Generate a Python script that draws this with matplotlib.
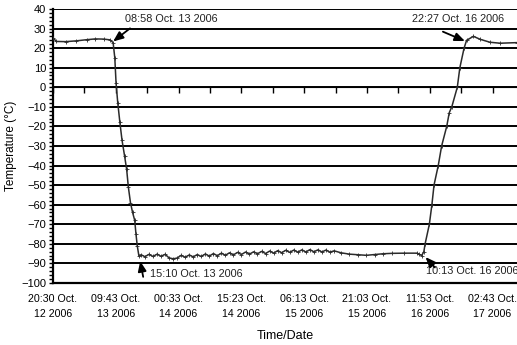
import matplotlib
matplotlib.use("Agg")
from matplotlib import pyplot as plt
from matplotlib.ticker import MultipleLocator
import numpy as np

plt.rcParams['font.family'] = ['Liberation Sans', 'DejaVu Sans']

# elapsed time (h) from the 20:30 Oct. 12 axis origin, and chamber temperature (C)
hours = [0.0, 0.8, 3.0, 5.5, 8.0, 10.0, 12.0, 13.5, 14.2,
         14.6, 14.9, 15.3, 15.8, 16.3, 16.9, 17.4, 17.8, 18.3, 18.8, 19.3, 19.6, 19.9, 20.3,
         20.8, 21.7, 22.7, 23.6, 24.6, 25.5, 26.5, 27.4, 28.4, 29.3, 30.3, 31.2, 32.2, 33.1,
         34.1, 35.0, 36.0, 36.9, 37.9, 38.8, 39.8, 40.7, 41.7, 42.6, 43.6, 44.5, 45.5, 46.4,
         47.4, 48.3, 49.3, 50.2, 51.2, 52.1, 53.1, 54.0, 55.0, 55.9, 56.9, 57.8, 58.8, 59.7,
         60.7, 61.6, 62.6, 63.5, 64.5, 65.4, 66.4,
         68.0, 70.0, 72.0, 74.0, 76.0, 78.0, 80.0, 83.0, 86.0, 86.5, 87.1,
         87.6, 87.9, 88.9, 89.5, 90.0, 91.0, 91.8, 93.0, 93.6, 94.2, 95.5, 96.1, 97.1, 97.7,
         99.3, 100.9, 103.2, 105.6, 109.6]
temps = [25.2, 23.4, 23.3, 23.7, 24.3, 24.7, 24.6, 24.2, 22.8,
         15.0, 2.0, -8.0, -18.0, -27.0, -35.0, -42.0, -51.0, -59.0, -64.0, -68.0, -75.0, -81.0, -86.3,
         -85.6, -86.6, -85.4, -86.5, -85.3, -86.4, -85.4, -87.2, -87.7, -87.3, -85.9, -86.9, -85.7, -86.7,
         -85.5, -86.5, -85.2, -86.3, -85.0, -86.1, -84.8, -85.9, -84.6, -85.7, -84.4, -85.5, -84.2, -85.3,
         -84.1, -85.1, -83.9, -85.0, -83.7, -84.8, -83.5, -84.6, -83.3, -84.4, -83.2, -84.3, -83.1, -84.2,
         -83.0, -84.1, -83.1, -84.2, -83.2, -84.3, -83.6,
         -84.6, -85.3, -85.6, -85.9, -85.5, -85.1, -84.9, -84.8, -84.8, -85.4, -86.0,
         -84.0, -80.0, -70.0, -60.0, -50.0, -40.0, -30.0, -20.0, -13.0, -10.0, 0.0, 10.0, 20.0, 24.0,
         26.0, 24.5, 23.0, 22.5, 22.8]

tick_labels = ["20:30 Oct.\n12 2006", "09:43 Oct.\n13 2006", "00:33 Oct.\n14 2006",
               "15:23 Oct.\n14 2006", "06:13 Oct.\n15 2006", "21:03 Oct.\n15 2006",
               "11:53 Oct.\n16 2006", "02:43 Oct.\n17 2006"]
label_step = 890 / 60.0  # 14 h 50 min between labelled ticks

# (text, text position, arrow tail, arrow head)
notes = [
    ("08:58 Oct. 13 2006", (17.0, 34.7), (18.2, 30.1), (14.2, 23.4)),
    ("22:27 Oct. 16 2006", (84.7, 34.7), (92.1, 28.4), (97.3, 23.6)),
    ("15:10 Oct. 13 2006", (22.9, -95.5), (21.3, -96.9), (20.6, -88.9)),
    ("10:13 Oct. 16 2006", (88.0, -94.0), (90.2, -92.1), (88.0, -86.8)),
]

fig = plt.figure(figsize=(5.17, 3.45), dpi=100)
ax = fig.add_axes([0.1025, 0.18, 0.8975, 0.794])

ax.set_xlim(0, 109.6)
ax.set_ylim(-100, 40)

for y in range(-90, 41, 10):
    ax.axhline(y, color='black', lw=1.4, zorder=1)

ax.plot(hours, temps, color='#2b2b2b', lw=1.1, marker='+', ms=3, mew=0.6, zorder=3)

for txt, tpos, tail, head in notes:
    ax.text(tpos[0], tpos[1], txt, fontsize=7.8, ha='left', va='center', color='#222222',
            clip_on=False)
    ax.annotate("", xy=head, xytext=tail,
                arrowprops=dict(arrowstyle='-|>,head_length=0.6,head_width=0.25',
                                color='black', lw=1.3, shrinkA=0, shrinkB=0))

ax.spines['top'].set_visible(False)
ax.spines['right'].set_visible(False)
ax.spines['left'].set_linewidth(1.6)
ax.spines['bottom'].set_linewidth(1.6)

ax.yaxis.set_major_locator(MultipleLocator(10))
ax.yaxis.set_minor_locator(MultipleLocator(2))
ax.tick_params(axis='y', which='both', direction='out', length=3, width=1.0, labelsize=8, pad=2)
ax.set_yticks(np.arange(-100, 41, 10))

ax.set_xticks([i * label_step for i in range(len(tick_labels))])
ax.set_xticklabels(tick_labels, fontsize=7.7, linespacing=1.6)
ax.tick_params(axis='x', which='both', length=0, pad=8)

# tick marks sit on the zero line
zero_axis = ax.secondary_xaxis(100 / 140)
zero_axis.set_xticks([i * label_step / 2 for i in range(2 * len(tick_labels) + 1)])
zero_axis.tick_params(axis='x', direction='out', length=4, width=1.0, labelbottom=False,
                      labeltop=False, bottom=True, top=False)
zero_axis.spines['bottom'].set_linewidth(1.4)
zero_axis.xaxis.set_ticks_position('bottom')
zero_axis.xaxis.set_tick_params(labelbottom=False)

ax.set_ylabel("Temperature (\u00b0C)", fontsize=8.5, labelpad=3)
ax.set_xlabel("Time/Date", fontsize=9, labelpad=8)

plt.savefig("out.png", dpi=100)
